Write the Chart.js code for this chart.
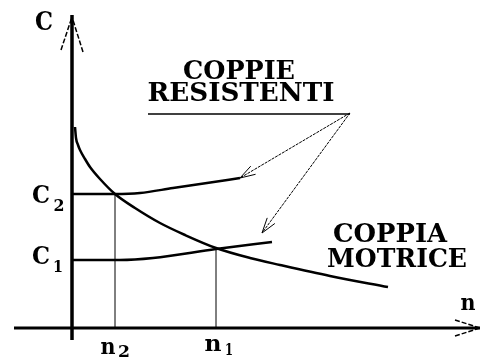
<!DOCTYPE html>
<html>
<head>
<meta charset="utf-8">
<script src="https://cdn.jsdelivr.net/npm/chart.js@4/dist/chart.umd.min.js"></script>
<style>
html,body{margin:0;padding:0;background:#fff;}
canvas{display:block;}
</style>
</head>
<body>
<canvas id="c" width="481" height="360"></canvas>
<script>
// ---- data (arbitrary units: n = speed, C = torque) ----
const motorN = [3, 4, 6, 8, 13, 18, 28, 43, 63, 88, 113, 144, 178, 208, 258, 316];
const motorC = [201, 190, 183, 178, 169, 161, 149, 134, 120, 105, 93, 80, 70, 63, 52, 41];
const res2N = [0, 43, 68, 101, 135, 168];
const res2C = [134, 134, 135, 140, 145, 150];
const res1N = [0, 48, 81, 144, 200];
const res1C = [68, 68, 70, 79, 86];
const opPointsN = [43, 144];   // n2, n1
const opPointsC = [134, 80];   // C2, C1
const axisN = [-58, 408];      // x axis extent
const axisC = [-12, 313];      // y axis extent
const calloutFrom = [278, 215];
const calloutTo = [[168, 150], [190, 95]];
const underlineN = [76, 278];
const underlineC = 214;

const pts = (xs, ys) => xs.map((x, i) => ({x, y: ys[i]}));

const datasets = [
  // axes
  {data: [{x: axisN[0], y: 0}, {x: axisN[1], y: 0}], borderWidth: 3},
  {data: [{x: 0, y: axisC[0]}, {x: 0, y: axisC[1]}], borderWidth: 3.5},
  // y arrow barbs
  {data: [{x: -11, y: 278}, {x: 0, y: 311}], borderWidth: 1.5, borderDash: [5, 2]},
  {data: [{x: 11, y: 276}, {x: 0, y: 311}], borderWidth: 1.5, borderDash: [5, 2]},
  // x arrow barbs
  {data: [{x: 383, y: 8}, {x: 408, y: 0}], borderWidth: 1.5, borderDash: [5, 2]},
  {data: [{x: 383, y: -8}, {x: 408, y: 0}], borderWidth: 1.5, borderDash: [5, 2]},
  // motor torque
  {data: pts(motorN, motorC), borderWidth: 2.5, cubicInterpolationMode: 'monotone'},
  // resistive torques
  {data: pts(res2N, res2C), borderWidth: 2.5, cubicInterpolationMode: 'monotone'},
  {data: pts(res1N, res1C), borderWidth: 2.5, cubicInterpolationMode: 'monotone'},
  // verticals at operating points
  {data: [{x: opPointsN[0], y: 0}, {x: opPointsN[0], y: opPointsC[0]}], borderWidth: 1},
  {data: [{x: opPointsN[1], y: 0}, {x: opPointsN[1], y: opPointsC[1]}], borderWidth: 1},
  // underline
  {data: [{x: underlineN[0], y: underlineC}, {x: underlineN[1], y: underlineC}], borderWidth: 1.5},
  // callout lines
  {data: [{x: calloutFrom[0], y: calloutFrom[1]}, {x: calloutTo[0][0], y: calloutTo[0][1]}], borderWidth: 1, borderDash: [3, 1]},
  {data: [{x: calloutFrom[0], y: calloutFrom[1]}, {x: calloutTo[1][0], y: calloutTo[1][1]}], borderWidth: 1, borderDash: [3, 1]}
].map(d => Object.assign({showLine: true, pointRadius: 0, borderColor: '#000', fill: false}, d));

// text annotations: [text, n, C, fontSize, targetWidth]
const labels = [
  ['C', -28, 305, 26, 18],
  ['n', 396, 24, 22, 15],
  ['C', -31, 131, 24, 18],
  ['2', -13, 121, 17, 11],
  ['C', -31, 70, 24, 18],
  ['1', -14, 60, 17, 10],
  ['n', 36, -20, 22, 15],
  ['2', 52, -25, 17, 12],
  ['n', 141, -17, 22, 17],
  ['1', 157, -23, 17, 8],
  ['COPPIE', 167, 256, 26, 112],
  ['RESISTENTI', 169, 234, 26, 187],
  ['COPPIA', 318, 93, 26, 114],
  ['MOTRICE', 325, 68, 26, 140]
];

const annot = {
  id: 'annot',
  afterDatasetsDraw(chart) {
    const ctx = chart.ctx, xs = chart.scales.x, ys = chart.scales.y;
    ctx.save();
    ctx.fillStyle = '#000';
    ctx.textAlign = 'center';
    ctx.textBaseline = 'middle';
    labels.forEach(([t, n, c, size, w]) => {
      ctx.font = 'bold ' + size + 'px "DejaVu Serif", serif';
      const mw = ctx.measureText(t).width;
      const px = xs.getPixelForValue(n), py = ys.getPixelForValue(c);
      ctx.save();
      ctx.translate(px, py);
      ctx.scale(w / mw, 1);
      ctx.fillText(t, 0, 0);
      ctx.restore();
    });
    // callout arrowheads
    ctx.strokeStyle = '#000';
    ctx.lineWidth = 1;
    const fx = xs.getPixelForValue(calloutFrom[0]), fy = ys.getPixelForValue(calloutFrom[1]);
    calloutTo.forEach(([n, c]) => {
      const tx = xs.getPixelForValue(n), ty = ys.getPixelForValue(c);
      const a = Math.atan2(fy - ty, fx - tx);
      [-0.3, 0.3].forEach(d => {
        ctx.beginPath();
        ctx.moveTo(tx, ty);
        ctx.lineTo(tx + 16 * Math.cos(a + d), ty + 16 * Math.sin(a + d));
        ctx.stroke();
      });
    });
    ctx.restore();
  }
};

new Chart(document.getElementById('c'), {
  type: 'scatter',
  data: {datasets},
  options: {
    responsive: false,
    animation: false,
    devicePixelRatio: 1,
    layout: {padding: 0},
    plugins: {legend: {display: false}, tooltip: {enabled: false}},
    scales: {
      x: {type: 'linear', min: -72, max: 409, display: false},
      y: {type: 'linear', min: -32, max: 328, display: false}
    }
  },
  plugins: [annot]
});
</script>
</body>
</html>
